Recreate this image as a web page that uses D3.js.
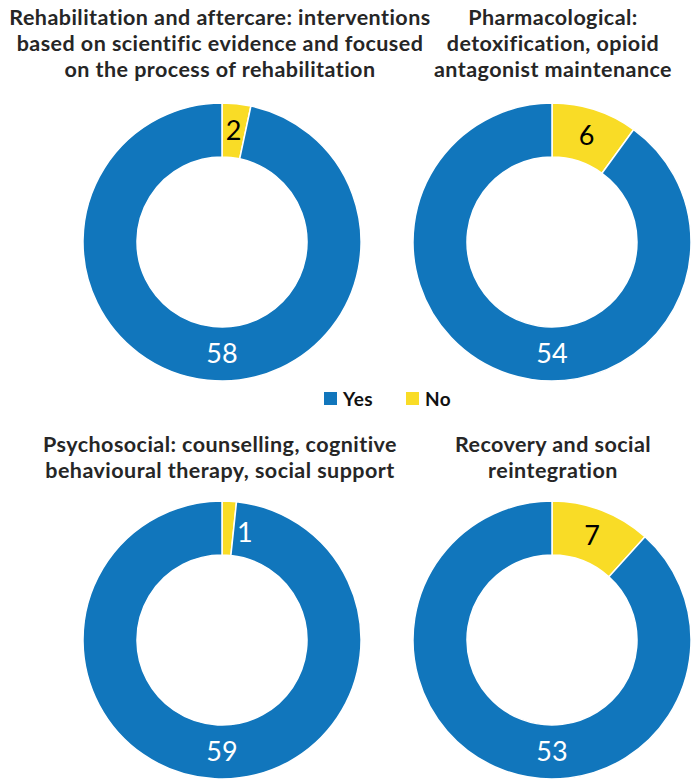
<!DOCTYPE html>
<html>
<head>
<meta charset="utf-8">
<script src="https://cdn.jsdelivr.net/npm/d3@7"></script>
<style>
  html, body { margin: 0; padding: 0; background: #fff; }
  svg { display: block; }
</style>
</head>
<body>
<svg id="chart" width="691" height="780"></svg>
<script>
// Treatment types and the number of responses in each
const titles = [
  ["Rehabilitation and aftercare: interventions", "based on scientific evidence and focused", "on the process of rehabilitation"],
  ["Pharmacological:", "detoxification, opioid", "antagonist maintenance"],
  ["Psychosocial: counselling, cognitive", "behavioural therapy, social support"],
  ["Recovery and social", "reintegration"]
];
const yesValues = [58, 54, 59, 53];
const noValues = [2, 6, 1, 7];
const legendLabels = ["Yes", "No"];
const colors = { Yes: "#1176bc", No: "#f9dc26" };

const svg = d3.select("#chart");

// 2 x 2 grid of donuts
const col = d3.scalePoint().domain([0, 1]).range([222, 552]);
const row = d3.scalePoint().domain([0, 1]).range([242, 640]);
const outerR = 139, innerR = 85;
const midR = (outerR + innerR) / 2;

const pie = d3.pie().sort(null).value(d => d.value);
const arc = d3.arc().innerRadius(innerR).outerRadius(outerR);

const fontFamily = "Lato, 'Open Sans', sans-serif";

titles.forEach((lines, i) => {
  const cx = col(i % 2), cy = row(Math.floor(i / 2));
  const data = [
    { key: "No", value: noValues[i] },
    { key: "Yes", value: yesValues[i] }
  ];
  const arcs = pie(data);
  const g = svg.append("g").attr("transform", `translate(${cx},${cy})`);

  g.selectAll("path")
    .data(arcs)
    .join("path")
    .attr("d", arc)
    .attr("fill", d => colors[d.data.key])
    .attr("stroke", "#fff")
    .attr("stroke-width", 1.5)
    .attr("stroke-linejoin", "miter");

  // "No" count sits in its slice; very thin slices push the number to the right on blue
  arcs.forEach(d => {
    let x, y, fill;
    if (d.data.key === "No") {
      [x, y] = arc.centroid(d);
      fill = "#000";
      if (d.endAngle - d.startAngle < 0.2) { x += 17; y += 4; fill = "#fff"; }
    } else {
      x = 0; y = midR; fill = "#fff";
    }
    g.append("text")
      .attr("x", x)
      .attr("y", y)
      .attr("dy", "0.35em")
      .attr("text-anchor", "middle")
      .attr("font-family", fontFamily)
      .attr("font-size", 27)
      .attr("fill", fill)
      .text(d.data.value);
  });

  // Title above each donut
  const titleTop = i < 2 ? 25 : 452;
  const tcx = i % 2 === 0 ? 220 : 553;
  svg.append("text")
    .attr("text-anchor", "middle")
    .attr("font-family", fontFamily)
    .attr("font-weight", 700)
    .attr("font-size", 21.5)
    .attr("letter-spacing", 0.45)
    .attr("fill", "#262626")
    .selectAll("tspan")
    .data(lines)
    .join("tspan")
    .attr("x", tcx)
    .attr("y", (d, k) => titleTop + k * 26)
    .text(d => d);
});

// Legend
const legend = svg.append("g").attr("transform", "translate(324,392)");
const legendX = d3.scalePoint().domain(legendLabels).range([0, 82]);
legendLabels.forEach(k => {
  const lg = legend.append("g").attr("transform", `translate(${legendX(k)},0)`);
  lg.append("rect").attr("width", 13).attr("height", 13).attr("fill", colors[k]);
  lg.append("text")
    .attr("x", 19).attr("y", 13.5)
    .attr("font-family", fontFamily)
    .attr("font-weight", 700)
    .attr("font-size", 19)
    .attr("letter-spacing", 0.5)
    .attr("fill", "#111")
    .text(k);
});
</script>
</body>
</html>
